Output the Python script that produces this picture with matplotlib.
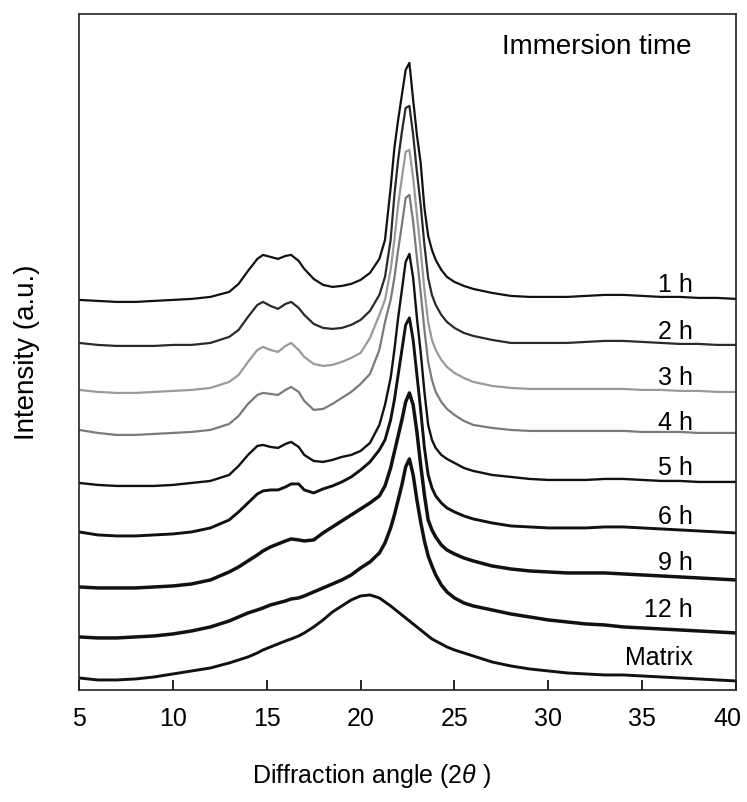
import numpy as np
import matplotlib
matplotlib.use('Agg')
import matplotlib.pyplot as plt
import matplotlib.transforms as mtransforms

plt.rcParams['font.family'] = ['Liberation Sans', 'DejaVu Sans']
plt.rcParams['mathtext.fontset'] = 'custom'
plt.rcParams['mathtext.it'] = 'Liberation Sans:italic'
plt.rcParams['mathtext.rm'] = 'Liberation Sans'

# 2-theta grid (denser around the 22.5 deg peak)
angle = [5, 6, 7, 8, 9, 10, 11, 12, 13, 13.5, 14, 14.5, 14.8, 15.2, 15.6, 16.0, 16.3, 16.7,
         17, 17.5, 18, 18.5, 19, 19.5, 20, 20.5, 21, 21.3, 21.6, 21.8, 22.0, 22.2, 22.4,
         22.6, 22.8, 23.0, 23.2, 23.4, 23.6, 23.8, 24.0, 24.3, 24.6, 25, 25.5, 26, 27, 28,
         29, 30, 31, 32, 33, 34, 35, 36, 37, 38, 39, 40]

h1 = [300, 301, 302, 302, 301, 300, 299, 297, 292, 284, 271, 259, 255, 257, 259, 256, 255, 261,
      269, 279, 285, 287, 286, 284, 280, 273, 259, 240, 188, 148, 120, 95, 70,
      63, 100, 135, 163, 208, 236, 250, 260, 270, 277, 282, 286, 289, 293, 296,
      297, 297, 297, 296, 295, 295, 296, 297, 297, 298, 298, 299]
h2 = [343, 345, 346, 346, 346, 345, 345, 343, 337, 330, 317, 305, 302, 306, 309, 304, 302, 308,
      315, 324, 328, 329, 328, 325, 320, 311, 295, 277, 240, 195, 160, 132, 108,
      106, 135, 172, 205, 245, 278, 295, 305, 315, 322, 328, 333, 336, 340, 343,
      343, 343, 343, 342, 341, 341, 342, 343, 344, 344, 345, 345]
h3 = [390, 392, 393, 393, 392, 391, 390, 388, 382, 375, 362, 350, 347, 350, 352, 346, 343, 350,
      357, 364, 366, 365, 362, 358, 353, 338, 315, 300, 270, 240, 205, 178, 152,
      150, 178, 215, 250, 290, 322, 340, 350, 360, 367, 373, 378, 382, 386, 388,
      389, 389, 389, 389, 389, 389, 390, 390, 391, 391, 392, 392]
h4 = [430, 433, 435, 435, 434, 433, 432, 430, 424, 416, 404, 395, 393, 394, 395, 390, 387, 392,
      401, 410, 409, 404, 398, 392, 384, 374, 350, 322, 300, 278, 250, 225, 198,
      195, 222, 258, 292, 330, 362, 380, 392, 402, 409, 415, 421, 425, 428, 430,
      431, 431, 431, 431, 431, 431, 432, 432, 432, 433, 433, 433]
h5 = [483, 485, 486, 486, 486, 485, 483, 481, 475, 466, 455, 446, 445, 447, 448, 444, 442, 447,
      455, 461, 462, 460, 457, 455, 451, 443, 425, 405, 378, 350, 318, 290, 262,
      254, 278, 318, 352, 392, 425, 440, 448, 455, 459, 463, 468, 471, 475, 477,
      479, 480, 480, 480, 479, 479, 480, 481, 481, 482, 482, 482]
h6 = [532, 535, 536, 536, 535, 534, 532, 528, 520, 512, 503, 494, 491, 490, 490, 487, 484, 484,
      490, 493, 489, 486, 482, 477, 470, 462, 450, 440, 420, 400, 375, 350, 325,
      318, 340, 375, 410, 448, 475, 488, 496, 503, 508, 512, 516, 519, 523, 526,
      527, 528, 528, 528, 527, 527, 528, 529, 530, 531, 532, 533]
h9 = [587, 588, 588, 588, 587, 586, 584, 580, 572, 567, 561, 555, 551, 547, 544, 541, 539, 540,
      541, 540, 533, 527, 521, 515, 509, 503, 496, 486, 468, 452, 436, 420, 402,
      393, 405, 432, 465, 495, 520, 530, 537, 545, 550, 554, 558, 561, 566, 569,
      571, 572, 573, 573, 573, 574, 575, 576, 577, 578, 579, 580]
h12 = [637, 638, 638, 637, 636, 634, 631, 627, 621, 617, 613, 610, 608, 605, 603, 601, 599, 598,
       596, 592, 588, 584, 580, 575, 568, 562, 553, 543, 528, 515, 500, 485, 467,
       459, 475, 500, 522, 541, 556, 566, 575, 585, 592, 598, 603, 606, 610, 614,
       617, 620, 622, 624, 625, 627, 628, 629, 630, 631, 632, 633]
matrix = [678, 680, 680, 679, 677, 674, 671, 668, 663, 660, 657, 653, 650, 647, 644, 641, 639, 636,
          633, 627, 620, 612, 606, 600, 596, 595, 598, 602, 606, 609, 612, 615, 618,
          621, 624, 627, 630, 633, 636, 639, 641, 644, 647, 650, 653, 656, 662, 666,
          669, 671, 673, 674, 675, 675, 676, 677, 678, 679, 680, 681]

labels = ['1 h', '2 h', '3 h', '4 h', '5 h', '6 h', '9 h', '12 h', 'Matrix']
traces = [h1, h2, h3, h4, h5, h6, h9, h12, matrix]
colors = ['#111111', '#2a2a2a', '#9a9a9a', '#7a7a7a', '#111111', '#111111', '#111111', '#111111', '#111111']
widths = [1.6, 1.6, 1.6, 1.6, 1.7, 2.1, 2.5, 2.5, 2.1]
label_y = [285, 332, 378, 423, 468, 517, 563, 610, 658]

fig = plt.figure(figsize=(7.47, 8.02), dpi=100)
ax = fig.add_axes([0.1058, 0.1397, 0.8795, 0.843])

for tr, c, lw in zip(traces, colors, widths):
    ax.plot(angle, tr, color=c, lw=lw)

for lab, ly in zip(labels, label_y):
    ax.text(37.7, ly, lab, ha='right', va='center', fontsize=18)

ax.text(32.6, 47, 'Immersion time', ha='center', va='center', fontsize=20)

ax.set_xlim(5, 40)
ax.set_ylim(690, 14)  # top-down units
ax.set_xticks([5, 10, 15, 20, 25, 30, 35, 40])
ax.set_yticks([])
ax.tick_params(axis='x', direction='in', length=7.5, width=1.2, labelsize=18, pad=12)
for s in ax.spines.values():
    s.set_linewidth(1.2)
    s.set_color('#222222')

# keep the "40" inside the figure
last = ax.get_xticklabels()[-1]
last.set_transform(last.get_transform() + mtransforms.ScaledTranslation(-0.09, 0, fig.dpi_scale_trans))

ax.set_xlabel(r'Diffraction angle (2$\theta$ )', fontsize=18)
ax.xaxis.set_label_coords(0.446, -0.106)
ax.set_ylabel('Intensity (a.u.)', fontsize=20, labelpad=28)

fig.savefig('out.png', dpi=100)
